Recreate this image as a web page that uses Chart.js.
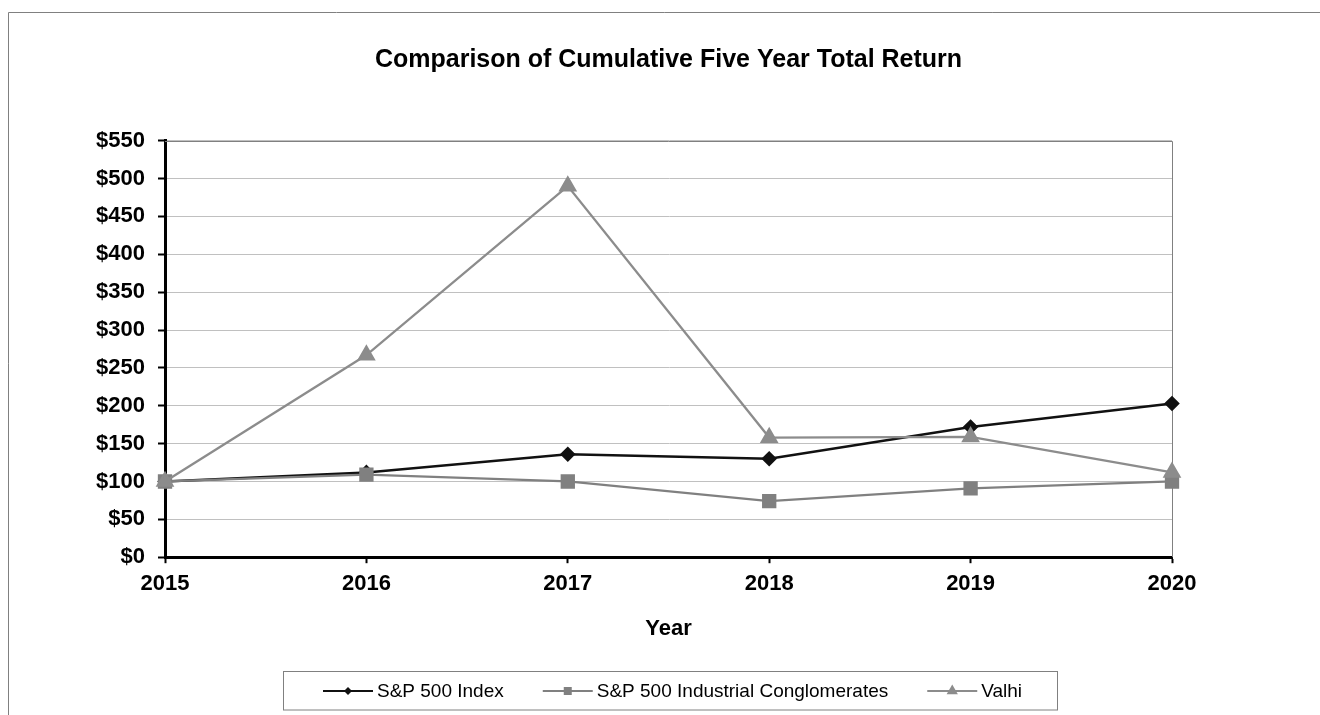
<!DOCTYPE html>
<html>
<head>
<meta charset="utf-8">
<script src="https://cdn.jsdelivr.net/npm/chart.js@4/dist/chart.umd.min.js"></script>
<style>
  html, body { margin: 0; padding: 0; background: #fff; }
  canvas { display: block; }
</style>
</head>
<body>
<canvas id="c" width="1320" height="715"></canvas>
<script>
// ---- data ----
const years = ['2015', '2016', '2017', '2018', '2019', '2020'];
const sp500 = [100, 112, 136, 130, 172, 203];
const industrialConglomerates = [100, 109, 100, 74, 91, 100];
const valhi = [100, 267, 490, 158, 159, 112];
const seriesNames = ['S&P 500 Index', 'S&P 500 Industrial Conglomerates', 'Valhi'];
const chartTitle = 'Comparison of Cumulative Five Year Total Return';
const xAxisTitle = 'Year';
const yMin = 0, yMax = 550, yStep = 50;

const FONT = '"Liberation Sans", Arial, Helvetica, sans-serif';

const bgPlugin = {
  id: 'bg',
  beforeDraw(chart) {
    const ctx = chart.ctx;
    ctx.save();
    ctx.fillStyle = '#fff';
    ctx.fillRect(0, 0, chart.width, chart.height);
    // outer frame (top + left)
    ctx.strokeStyle = '#808080';
    ctx.lineWidth = 1;
    ctx.beginPath();
    ctx.moveTo(8.5, chart.height);
    ctx.lineTo(8.5, 12.5);
    ctx.lineTo(chart.width, 12.5);
    ctx.stroke();
    ctx.restore();
  }
};

const framePlugin = {
  id: 'frame',
  beforeDatasetsDraw(chart) {
    const a = chart.chartArea, ctx = chart.ctx;
    ctx.save();
    ctx.strokeStyle = '#808080';
    ctx.lineWidth = 1;
    ctx.beginPath();
    ctx.moveTo(a.left, Math.round(a.top) + 0.5);
    ctx.lineTo(Math.round(a.right) + 0.5, Math.round(a.top) + 0.5);
    ctx.lineTo(Math.round(a.right) + 0.5, a.bottom);
    ctx.stroke();
    ctx.restore();
  }
};

function drawMarker(ctx, style, x, y, r, color) {
  ctx.fillStyle = color;
  ctx.beginPath();
  if (style === 'rectRot') {
    ctx.moveTo(x - r, y); ctx.lineTo(x, y - r); ctx.lineTo(x + r, y); ctx.lineTo(x, y + r);
  } else if (style === 'rect') {
    ctx.rect(x - r, y - r, 2 * r, 2 * r);
  } else if (style === 'triangle') {
    ctx.moveTo(x, y - r);
    ctx.lineTo(x + r * 0.866, y + r * 0.5);
    ctx.lineTo(x - r * 0.866, y + r * 0.5);
  }
  ctx.closePath();
  ctx.fill();
}

const legendPlugin = {
  id: 'boxLegend',
  afterDraw(chart) {
    const ctx = chart.ctx;
    ctx.save();
    ctx.strokeStyle = '#808080';
    ctx.lineWidth = 1;
    ctx.strokeRect(283.5, 671.5, 774, 38.5);
    ctx.font = '19px ' + FONT;
    ctx.textBaseline = 'middle';
    ctx.textAlign = 'left';
    const cy = 691;
    const legendMarkerSize = [4, 4, 6.5];
    let x = 323;
    chart.data.datasets.forEach((ds, i) => {
      ctx.strokeStyle = ds.borderColor;
      ctx.lineWidth = 2;
      ctx.beginPath();
      ctx.moveTo(x, cy); ctx.lineTo(x + 50, cy);
      ctx.stroke();
      drawMarker(ctx, ds.pointStyle, x + 25, cy, legendMarkerSize[i], ds.pointBackgroundColor);
      ctx.fillStyle = '#000';
      ctx.fillText(ds.label, x + 54, cy + 1);
      x = x + 54 + ctx.measureText(ds.label).width + 39;
    });
    ctx.restore();
  }
};

new Chart(document.getElementById('c'), {
  type: 'line',
  data: {
    labels: years,
    datasets: [
      {
        label: seriesNames[0], data: sp500,
        borderColor: '#111', backgroundColor: '#111',
        pointBackgroundColor: '#111', pointBorderColor: '#111',
        borderWidth: 2.5, pointStyle: 'rectRot', pointRadius: 6, pointHoverRadius: 6,
        tension: 0, clip: false, order: 2
      },
      {
        label: seriesNames[1], data: industrialConglomerates,
        borderColor: '#808080', backgroundColor: '#808080',
        pointBackgroundColor: '#808080', pointBorderColor: '#808080',
        borderWidth: 2.3, pointStyle: 'rect', pointRadius: 8.5, pointHoverRadius: 8.5,
        tension: 0, clip: false, order: 1
      },
      {
        label: seriesNames[2], data: valhi,
        borderColor: '#8c8c8c', backgroundColor: '#8c8c8c',
        pointBackgroundColor: '#8c8c8c', pointBorderColor: '#8c8c8c',
        borderWidth: 2.3, pointStyle: 'triangle', pointRadius: 8.5, pointHoverRadius: 8.5,
        tension: 0, clip: false, order: 0
      }
    ]
  },
  options: {
    responsive: false,
    animation: false,
    devicePixelRatio: 1,
    layout: { padding: { top: 0, left: 0, right: 148, bottom: 72.5 } },
    plugins: {
      legend: { display: false },
      tooltip: { enabled: false },
      title: {
        display: true, text: chartTitle, fullSize: false,
        color: '#000',
        font: { family: FONT, size: 25, weight: 'bold', lineHeight: 1.2 },
        padding: { top: 45, bottom: 65.7 }
      }
    },
    scales: {
      x: {
        type: 'category',
        offset: false,
        border: { display: true, color: '#000', width: 3 },
        grid: { drawOnChartArea: false, drawTicks: true, tickLength: 6, tickColor: '#000', tickWidth: 2 },
        ticks: { color: '#000', padding: 8, maxRotation: 0, autoSkip: false,
                 font: { family: FONT, size: 22, weight: 'bold', lineHeight: 1.2 } },
        title: { display: true, text: xAxisTitle, color: '#000',
                 font: { family: FONT, size: 22, weight: 'bold', lineHeight: 1.2 },
                 padding: { top: 10.5, bottom: 0 } }
      },
      y: {
        min: yMin, max: yMax,
        border: { display: true, color: '#000', width: 3 },
        grid: { color: '#c0c0c0', lineWidth: 1, drawTicks: true, tickLength: 7, tickColor: '#000', tickWidth: 2 },
        ticks: { stepSize: yStep, color: '#000', padding: 13,
                 font: { family: FONT, size: 22, weight: 'bold', lineHeight: 1.2 },
                 callback: v => '$' + v },
        afterFit(scale) { scale.width = 165; }
      }
    }
  },
  plugins: [bgPlugin, framePlugin, legendPlugin]
});
</script>
</body>
</html>
